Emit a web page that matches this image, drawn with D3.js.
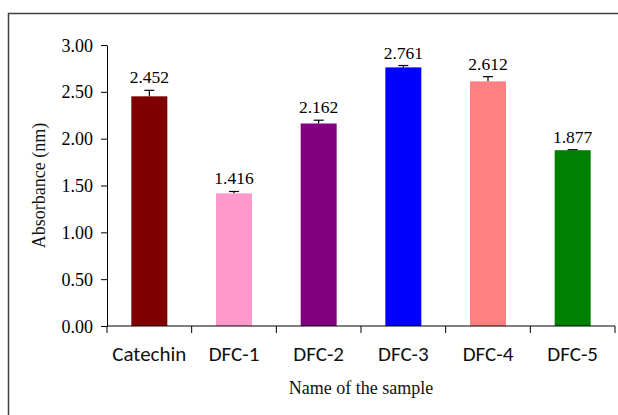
<!DOCTYPE html>
<html><head><meta charset="utf-8">
<script src="https://cdn.jsdelivr.net/npm/d3@7"></script>
<style>body{margin:0;background:#fff}svg{display:block}</style>
</head><body>
<svg id="c" width="618" height="415"></svg>
<script>
const categories = ["Catechin","DFC-1","DFC-2","DFC-3","DFC-4","DFC-5"];
const values = [2.452,1.416,2.162,2.761,2.612,1.877];
const errors = [0.064,0.02,0.035,0.02,0.05,0.005];
const colors = ["#800000","#FF99CC","#800080","#0000FF","#FF8080","#008000"];
const yTicks = [0,0.5,1,1.5,2,2.5,3];

const svg = d3.select("#c");
// outer frame (right/bottom cropped)
svg.append("path").attr("d","M8.5,415 V13.5 H618").attr("fill","none").attr("stroke","#404040").attr("stroke-width",1.5);

const m = {l:107, r:615, t:45, b:326};
const x = d3.scaleBand().domain(categories).range([m.l,m.r]).paddingInner(0.575).paddingOuter(0.2875);
const y = d3.scaleLinear().domain([0,3]).range([m.b,m.t]);

const serif = "'Liberation Serif','Times New Roman',serif";

svg.selectAll("rect.bar").data(values).join("rect").attr("class","bar")
  .attr("x",(d,i)=>x(categories[i])).attr("width",x.bandwidth())
  .attr("y",d=>y(d)).attr("height",d=>y(0)-y(d)).attr("fill",(d,i)=>colors[i]);

// error bars
const eg = svg.append("g").attr("stroke","#000").attr("stroke-width",1.2);
values.forEach((v,i)=>{
  const cx = x(categories[i])+x.bandwidth()/2;
  eg.append("line").attr("x1",cx).attr("x2",cx).attr("y1",y(v)).attr("y2",y(v+errors[i]));
  eg.append("line").attr("x1",cx-5).attr("x2",cx+5).attr("y1",y(v+errors[i])).attr("y2",y(v+errors[i]));
});

// value labels
svg.selectAll("text.val").data(values).join("text").attr("class","val")
  .attr("x",(d,i)=>x(categories[i])+x.bandwidth()/2)
  .attr("y",(d,i)=>y(d+errors[i])-7)
  .attr("text-anchor","middle").attr("font-family",serif).attr("font-size",17.5).attr("fill","#000")
  .text(d=>d.toFixed(3));

// y axis
const ya = svg.append("g").attr("transform",`translate(${m.l},0)`)
  .call(d3.axisLeft(y).tickValues(yTicks).tickFormat(d3.format(".2f")).tickSize(6).tickSizeOuter(0));
ya.select(".domain").attr("stroke","#000");
ya.selectAll(".tick line").attr("stroke","#000");
ya.selectAll("text").attr("font-family",serif).attr("font-size",18).attr("fill","#000").attr("x",-14).attr("dy","0.34em");

// x axis with ticks at band edges
const xa = svg.append("g").attr("transform",`translate(0,${m.b})`);
xa.append("line").attr("x1",m.l).attr("x2",m.r).attr("stroke","#000");
const edges = d3.range(categories.length+1).map(i=>m.l + (m.r-m.l)*i/categories.length);
xa.selectAll("line.t").data(edges).join("line").attr("class","t")
  .attr("x1",d=>d).attr("x2",d=>d).attr("y1",0).attr("y2",7).attr("stroke","#000");
xa.selectAll("text").data(categories).join("text")
  .attr("x",d=>x(d)+x.bandwidth()/2).attr("y",35)
  .attr("text-anchor","middle").attr("font-family","Carlito,Lato,'Open Sans',sans-serif").attr("font-size",21).attr("fill","#111")
  .text(d=>d);

// axis titles
svg.append("text").attr("x",(m.l+m.r)/2).attr("y",394).attr("text-anchor","middle")
  .attr("font-family",serif).attr("font-size",18).attr("fill","#111").text("Name of the sample");
svg.append("text").attr("transform",`translate(45,${(m.t+m.b)/2}) rotate(-90)`).attr("text-anchor","middle")
  .attr("font-family",serif).attr("font-size",18).attr("fill","#111").text("Absorbance (nm)");
</script>
</body></html>
